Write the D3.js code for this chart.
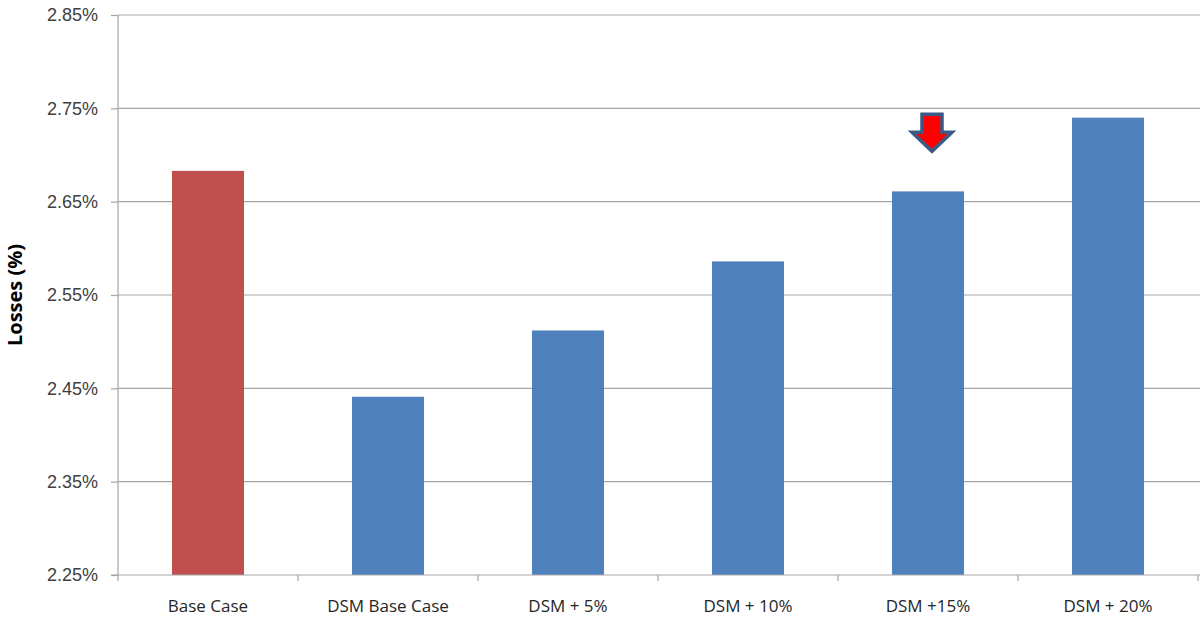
<!DOCTYPE html>
<html>
<head>
<meta charset="utf-8">
<script src="https://cdn.jsdelivr.net/npm/d3@7"></script>
<style>
  body { margin: 0; background: #fff; }
  svg { display: block; font-family: "Open Sans", "Liberation Sans", sans-serif; }
</style>
</head>
<body>
<div id="chart"></div>
<script>
const categories = ['Base Case', 'DSM Base Case', 'DSM + 5%', 'DSM + 10%', 'DSM +15%', 'DSM + 20%'];
const losses = [2.683, 2.441, 2.512, 2.586, 2.661, 2.740];
const yTicks = [2.25, 2.35, 2.45, 2.55, 2.65, 2.75, 2.85];
const highlight = 'DSM +15%';

const width = 1200;
const height = 621;
const margin = { top: 15, right: 2, bottom: 46, left: 118 };
const innerWidth = width - margin.left - margin.right;
const innerHeight = height - margin.top - margin.bottom;

const svg = d3.select('#chart')
  .append('svg')
  .attr('width', width)
  .attr('height', height)
  .append('g')
  .attr('transform', `translate(${margin.left},${margin.top})`);

const x = d3.scaleBand()
  .domain(categories)
  .range([0, innerWidth])
  .paddingInner(0.6)
  .paddingOuter(0.3);

const xEdge = d3.scaleLinear()
  .domain([0, categories.length])
  .range([0, innerWidth]);

const y = d3.scaleLinear()
  .domain([2.25, 2.85])
  .range([innerHeight, 0]);

// gridlines
svg.selectAll('.grid')
  .data(yTicks.slice(1))
  .enter()
  .append('line')
  .attr('x1', 0)
  .attr('x2', innerWidth + margin.right)
  .attr('y1', d => y(d))
  .attr('y2', d => y(d))
  .attr('stroke', '#a6a6a6')
  .attr('stroke-width', 1.2);

// bars
svg.selectAll('.bar')
  .data(categories)
  .enter()
  .append('rect')
  .attr('x', d => x(d))
  .attr('y', (d, i) => y(losses[i]))
  .attr('width', x.bandwidth())
  .attr('height', (d, i) => innerHeight - y(losses[i]))
  .attr('fill', (d, i) => i === 0 ? '#c0504d' : '#4f81bd');

// y axis
const yAxis = svg.append('g')
  .call(d3.axisLeft(y).tickValues(yTicks).tickSize(7).tickPadding(13)
    .tickFormat(d => d.toFixed(2) + '%'));
yAxis.select('.domain').attr('stroke', '#a6a6a6').attr('stroke-width', 1.2).attr('d', `M0,0V${innerHeight}`);
yAxis.selectAll('.tick line').attr('stroke', '#a6a6a6').attr('stroke-width', 1.2);
yAxis.selectAll('text').attr('font-size', '18px').attr('fill', '#404040');

// x axis
const xAxis = svg.append('g')
  .attr('transform', `translate(0,${innerHeight})`);
xAxis.append('line')
  .attr('x1', -7).attr('x2', innerWidth + margin.right)
  .attr('stroke', '#a6a6a6').attr('stroke-width', 1.2);
xAxis.selectAll('.xt')
  .data(d3.range(categories.length + 1))
  .enter()
  .append('line')
  .attr('x1', d => xEdge(d)).attr('x2', d => xEdge(d))
  .attr('y1', 0).attr('y2', 6)
  .attr('stroke', '#a6a6a6').attr('stroke-width', 1.2);
xAxis.selectAll('.xl')
  .data(categories)
  .enter()
  .append('text')
  .attr('x', d => x(d) + x.bandwidth() / 2)
  .attr('y', 37)
  .attr('text-anchor', 'middle')
  .attr('font-size', '17px')
  .attr('fill', '#262626')
  .text(d => d);

// y label
svg.append('text')
  .attr('transform', 'rotate(-90)')
  .attr('x', -y(2.55))
  .attr('y', -96)
  .attr('text-anchor', 'middle')
  .attr('font-size', '20px')
  .attr('font-weight', 'bold')
  .attr('fill', '#000')
  .text('Losses (%)');

// arrow annotation above highlighted bar
const cx = x(highlight) + x.bandwidth() / 2 + 4;
const arrowTop = y(2.75) + 6;
const arrow = [
  [cx - 10, arrowTop], [cx + 10, arrowTop], [cx + 10, arrowTop + 18], [cx + 20, arrowTop + 18],
  [cx, arrowTop + 37], [cx - 20, arrowTop + 18], [cx - 10, arrowTop + 18]
];
svg.append('path')
  .attr('d', d3.line()(arrow) + 'Z')
  .attr('fill', '#ff0000')
  .attr('stroke', '#3b5a86')
  .attr('stroke-width', 3.5)
  .attr('stroke-linejoin', 'miter');
</script>
</body>
</html>
